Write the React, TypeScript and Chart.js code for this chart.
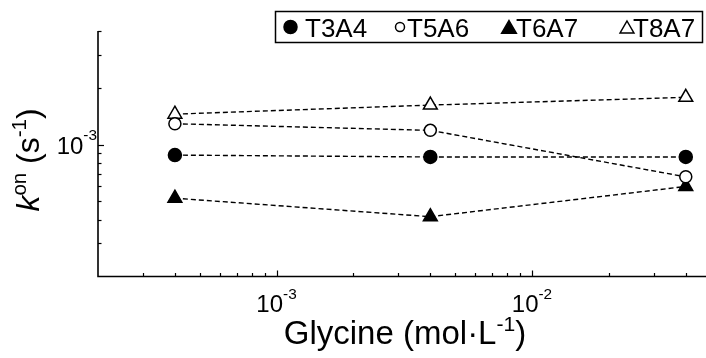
import React, { useEffect, useRef } from "react";
import { Chart, registerables } from "chart.js";

Chart.register(...registerables);

// ---- data ----
const glycine = [4e-4, 4e-3, 4e-2];
const seriesNames = ["T3A4", "T5A6", "T6A7", "T8A7"];
const t3a4 = [8.8e-4, 8.6e-4, 8.6e-4];
const t5a6 = [1.29e-3, 1.19e-3, 6.75e-4];
const t6a7 = [5.2e-4, 4.15e-4, 6.0e-4];
const t8a7 = [1.45e-3, 1.62e-3, 1.78e-3];
const xMajorTicks = [1e-3, 1e-2];
const xTickLabels = [["10", "-3"], ["10", "-2"]];
const yMajorTicks = [1e-3];
const yTickLabels = [["10", "-3"]];

const FONT = '"Liberation Sans", Arial, Helvetica, sans-serif';

type Seg = { t: string; sup?: boolean; it?: boolean };

function segFont(s: Seg, size: number) {
  const sz = s.sup ? size * 0.64 : size;
  return `${s.it ? "italic " : ""}${sz}px ${FONT}`;
}

function drawRich(ctx: CanvasRenderingContext2D, segs: Seg[], x: number, y: number, size: number, align: "center" | "right" | "left", supRaise = 0.42) {
  ctx.save();
  ctx.textBaseline = "alphabetic";
  ctx.textAlign = "left";
  let total = 0;
  const widths = segs.map((s) => {
    ctx.font = segFont(s, size);
    const w = ctx.measureText(s.t).width;
    total += w;
    return w;
  });
  let cx = align === "center" ? x - total / 2 : align === "right" ? x - total : x;
  segs.forEach((s, i) => {
    ctx.font = segFont(s, size);
    const dy = s.sup ? -size * supRaise : 0;
    ctx.fillText(s.t, cx, y + dy);
    cx += widths[i];
  });
  ctx.restore();
}

function drawMarker(ctx: CanvasRenderingContext2D, kind: string, cx: number, cy: number, r: number) {
  ctx.save();
  ctx.lineWidth = 1.5;
  ctx.strokeStyle = "#000";
  ctx.fillStyle = kind.startsWith("filled") ? "#000" : "#fff";
  ctx.beginPath();
  if (kind.endsWith("circle")) {
    ctx.arc(cx, cy, r, 0, Math.PI * 2);
  } else {
    ctx.moveTo(cx, cy - r);
    ctx.lineTo(cx + r * 0.866, cy + r * 0.5);
    ctx.lineTo(cx - r * 0.866, cy + r * 0.5);
    ctx.closePath();
  }
  ctx.fill();
  ctx.stroke();
  ctx.restore();
}

const decorPlugin = {
  id: "decor",
  afterDraw(chart: any) {
    const ctx: CanvasRenderingContext2D = chart.ctx;
    const xs = chart.scales.x;
    const ys = chart.scales.y;
    const a = chart.chartArea;
    ctx.save();
    ctx.strokeStyle = "#000";
    ctx.lineWidth = 1.6;
    ctx.beginPath();
    ctx.moveTo(a.left, a.top);
    ctx.lineTo(a.left, a.bottom);
    ctx.lineTo(a.right, a.bottom);
    ctx.stroke();

    ctx.lineWidth = 1.2;
    // x ticks
    for (let k = -5; k <= 1; k++) {
      for (let m = 1; m <= 9; m++) {
        const v = m * Math.pow(10, k);
        if (v < xs.min || v > xs.max) continue;
        const px = Math.round(xs.getPixelForValue(v)) + 0.5;
        if (px < a.left + 2 || px > a.right) continue;
        const len = m === 1 ? 6 : 3.5;
        ctx.beginPath();
        ctx.moveTo(px, a.bottom);
        ctx.lineTo(px, a.bottom - len);
        ctx.stroke();
      }
    }
    // y ticks
    for (let k = -5; k <= 1; k++) {
      for (let m = 1; m <= 9; m++) {
        const v = m * Math.pow(10, k);
        if (v < ys.min * 1.0001 || v > ys.max * 1.0001) continue;
        const py = Math.round(ys.getPixelForValue(v)) + 0.5;
        if (py > a.bottom - 2) continue;
        const len = m === 1 ? 6 : 3.5;
        ctx.beginPath();
        ctx.moveTo(a.left, py);
        ctx.lineTo(a.left + len, py);
        ctx.stroke();
      }
    }
    ctx.fillStyle = "#000";
    // x tick labels
    xMajorTicks.forEach((v, i) => {
      const px = xs.getPixelForValue(v);
      drawRich(ctx, [{ t: xTickLabels[i][0] }, { t: xTickLabels[i][1], sup: true }], px, 312, 24, "center", 0.55);
    });
    // y tick labels
    yMajorTicks.forEach((v, i) => {
      const py = ys.getPixelForValue(v);
      drawRich(ctx, [{ t: yTickLabels[i][0] }, { t: yTickLabels[i][1], sup: true }], 97, py + 9, 24, "right", 0.55);
    });
    // x title
    drawRich(
      ctx,
      [{ t: "Glycine (mol·L" }, { t: "-1", sup: true }, { t: ")" }],
      405,
      344,
      33,
      "center",
      0.4
    );
    // y title
    ctx.save();
    ctx.translate(39, 160);
    ctx.rotate(-Math.PI / 2);
    drawRich(ctx, [{ t: "k", it: true }, { t: "on", sup: true }, { t: " (s" }, { t: "-1", sup: true }, { t: ")" }], 0, 0, 32, "center", 0.4);
    ctx.restore();

    // legend
    ctx.lineWidth = 1.5;
    ctx.strokeRect(275.5, 11.5, 427, 31);
    const kinds = ["filled-circle", "open-circle", "filled-triangle", "open-triangle"];
    const mx = [290.5, 400, 509, 627];
    const mr = [6.5, 4.5, 8.5, 8];
    const tx = [305, 407, 516, 633];
    ctx.font = `26px ${FONT}`;
    ctx.textBaseline = "alphabetic";
    ctx.textAlign = "left";
    seriesNames.forEach((n, i) => {
      const cy = kinds[i].endsWith("triangle") ? 29 : 27;
      drawMarker(ctx, kinds[i], mx[i], cy, mr[i]);
      ctx.fillStyle = "#000";
      ctx.fillText(n, tx[i], 36.5);
    });
    ctx.restore();
  },
};

export default function App() {
  const ref = useRef<HTMLCanvasElement>(null);
  useEffect(() => {
    if (!ref.current) return;
    const mk = (label: string, vals: number[], style: string, filled: boolean, r: number) => ({
      label,
      data: glycine.map((x, i) => ({ x, y: vals[i] })),
      showLine: true,
      borderColor: "#000",
      borderWidth: 1.4,
      borderDash: [5, 3],
      pointStyle: style,
      pointRadius: r,
      pointHoverRadius: r,
      pointBackgroundColor: filled ? "#000" : "#fff",
      pointBorderColor: "#000",
      pointBorderWidth: 1.5,
      tension: 0,
      clip: false,
    });
    const chart = new Chart(ref.current, {
      type: "scatter",
      data: {
        datasets: [
          mk(seriesNames[0], t3a4, "circle", true, 6.5),
          mk(seriesNames[1], t5a6, "circle", false, 6),
          mk(seriesNames[2], t6a7, "triangle", true, 8),
          mk(seriesNames[3], t8a7, "triangle", false, 8),
        ],
      },
      options: {
        animation: false,
        responsive: false,
        maintainAspectRatio: false,
        events: [],
        layout: { autoPadding: false, padding: { left: 98, top: 31, right: 0, bottom: 81.5 } },
        plugins: { legend: { display: false }, tooltip: { enabled: false } },
        scales: {
          x: { type: "logarithmic", min: 2e-4, max: 4.8e-2, display: false },
          y: { type: "logarithmic", min: 2e-4, max: 4e-3, display: false },
        },
      },
      plugins: [decorPlugin],
    } as any);
    return () => chart.destroy();
  }, []);
  return (
    <div style={{ position: "fixed", left: 0, top: 0, width: 706, height: 358, background: "#fff" }}>
      <canvas ref={ref} width={706} height={358} style={{ display: "block" }} />
    </div>
  );
}
